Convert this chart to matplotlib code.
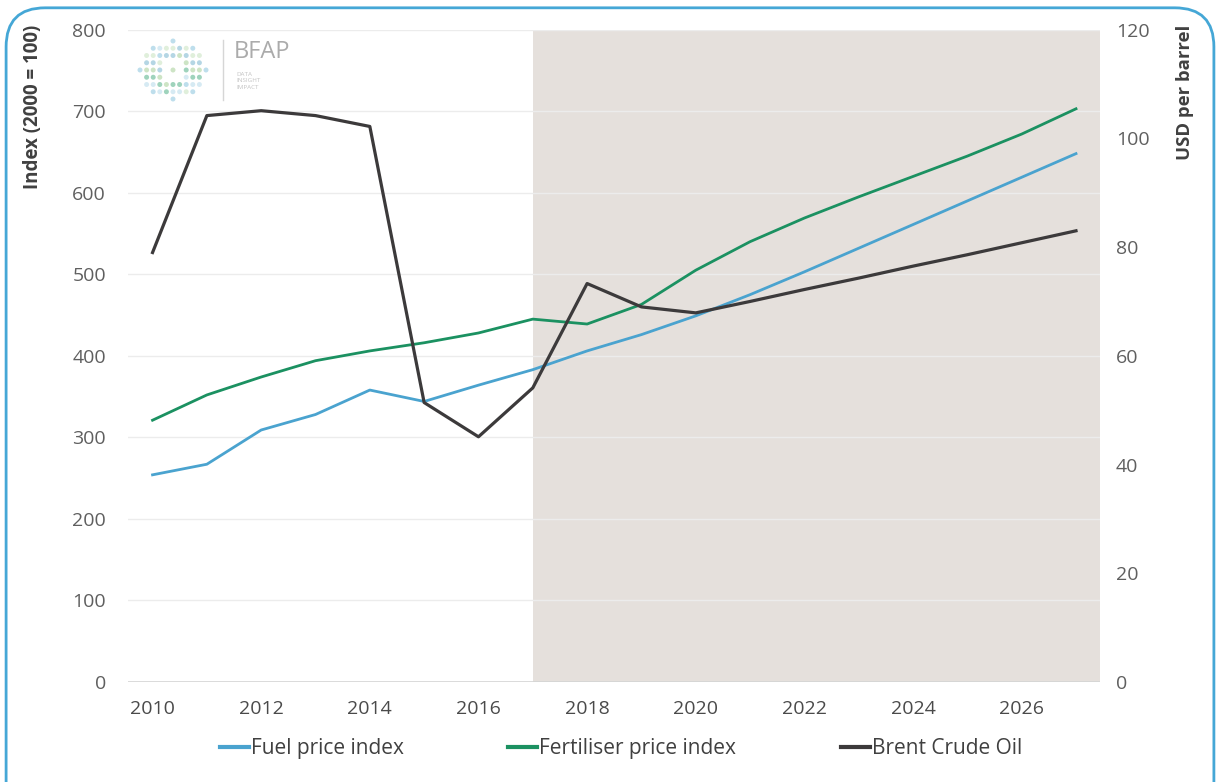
import numpy as np
import matplotlib.pyplot as plt
from matplotlib.patches import FancyBboxPatch, Ellipse

plt.rcParams['font.family'] = ['Open Sans', 'DejaVu Sans']

years = [2010, 2011, 2012, 2013, 2014, 2015, 2016, 2017, 2018,
         2019, 2020, 2021, 2022, 2023, 2024, 2025, 2026, 2027]
fuel_index = [254, 267, 309, 328, 358, 344, 364, 383, 406,
              426, 449, 475, 503, 532, 561, 590, 619, 648]
fert_index = [321, 352, 374, 394, 406, 416, 428, 445, 439,
              463, 505, 540, 569, 595, 620, 645, 672, 703]
brent = [79.0, 104.2, 105.1, 104.2, 102.2, 51.4, 45.1, 54.1, 73.3,
         69.0, 67.9, 70.0, 72.2, 74.3, 76.5, 78.6, 80.8, 83.0]
left_ticks = [0, 100, 200, 300, 400, 500, 600, 700, 800]
right_ticks = [0, 20, 40, 60, 80, 100, 120]
x_ticks = [2010, 2012, 2014, 2016, 2018, 2020, 2022, 2024, 2026]
projection_start = 2017

fuel_col = '#4aa3cf'
fert_col = '#1b9161'
brent_col = '#3c3a3b'
tick_col = '#5f5f5f'

W, H = 1220, 782
fig = plt.figure(figsize=(W / 100, H / 100), dpi=100)
ax = fig.add_axes([0.105, 0.128, 0.797, 0.834])
ax2 = ax.twinx()

# outline frame round the whole figure
frame = FancyBboxPatch((0.005, -0.05), 0.99, 1.04, boxstyle='round,pad=0,rounding_size=0.032',
                       transform=fig.transFigure, fill=False, edgecolor='#45a7d6',
                       linewidth=2.0, mutation_aspect=W / H)
fig.patches.append(frame)

ax.set_xlim(2009.55, 2027.45)
ax.set_ylim(0, 800)
ax2.set_ylim(0, 120)

# projection period shading
ax.axvspan(projection_start, 2027.45, color='#e5e0dc', zorder=0, lw=0)
for t in left_ticks[1:]:
    ax.axhline(t, color='#ececec', lw=1.0, zorder=1)
ax.axhline(0, color='#d4d4d4', lw=1.2, zorder=1)

ax.plot(years, fuel_index, color=fuel_col, lw=2.0, zorder=3, label='Fuel price index')
ax.plot(years, fert_index, color=fert_col, lw=2.0, zorder=3, label='Fertiliser price index')
ax2.plot(years, brent, color=brent_col, lw=2.3, zorder=3, label='Brent Crude Oil')

ax.set_yticks(left_ticks)
ax2.set_yticks(right_ticks)
ax.set_xticks(x_ticks)
ax.set_xticklabels([str(x) for x in x_ticks], fontsize=14, color='#4a4a4a')
ax.tick_params(axis='y', length=0, labelsize=14, labelcolor=tick_col, pad=16)
ax.tick_params(axis='x', length=0, pad=13)
ax2.tick_params(axis='y', length=0, labelsize=14, labelcolor=tick_col, pad=11)
for a in (ax, ax2):
    for s in a.spines.values():
        s.set_visible(False)

fig.text(33 / W, 1 - 25 / H, 'Index (2000 = 100)', rotation=90, ha='center', va='top',
         fontsize=13.5, fontweight='bold', color='#404040')
fig.text(1185 / W, 1 - 25 / H, 'USD per barrel', rotation=90, ha='center', va='top',
         fontsize=13.3, fontweight='bold', color='#404040')

# logo in the top left corner
cx, cy = 173 / W, 1 - 70 / H
rx, ry = 33 / W, 29 / H
palette = ['#a8d4e6', '#c9e4ef', '#7fc5a6', '#bddcb2', '#9cc9dc', '#d6ead0']
k = 0
for i in range(-5, 6):
    for j in range(-4, 5):
        px, py = i / 5, j / 4
        d = px * px + py * py
        if 0.15 < d <= 1.0 or (j == 0 and i % 2 == 0):
            fig.patches.append(Ellipse((cx + px * rx, cy + py * ry), 5 / W, 5 / H,
                                       transform=fig.transFigure,
                                       color=palette[k % len(palette)], alpha=0.75, lw=0))
            k += 1
fig.add_artist(plt.Line2D([223 / W, 223 / W], [1 - 40 / H, 1 - 100 / H],
                          transform=fig.transFigure, color='#d6d6d6', lw=1))
fig.text(234 / W, 1 - 52 / H, 'BFAP', fontsize=17, color='#ababab', va='center')
fig.text(236 / W, 1 - 81 / H, 'DATA\nINSIGHT\nIMPACT', fontsize=4.5, color='#c4c4c4',
         va='center', linespacing=1.3)

leg = fig.legend(handles=ax.get_lines()[-2:] + ax2.get_lines(),
                 loc='center', bbox_to_anchor=(0.509, 0.043), ncol=3, frameon=False,
                 handlelength=1.4, handletextpad=0.1, columnspacing=5.0,
                 prop={'size': 15})
for t in leg.get_texts():
    t.set_color('#404040')
for l in leg.get_lines():
    l.set_linewidth(3)

fig.savefig('out.png', dpi=100)
